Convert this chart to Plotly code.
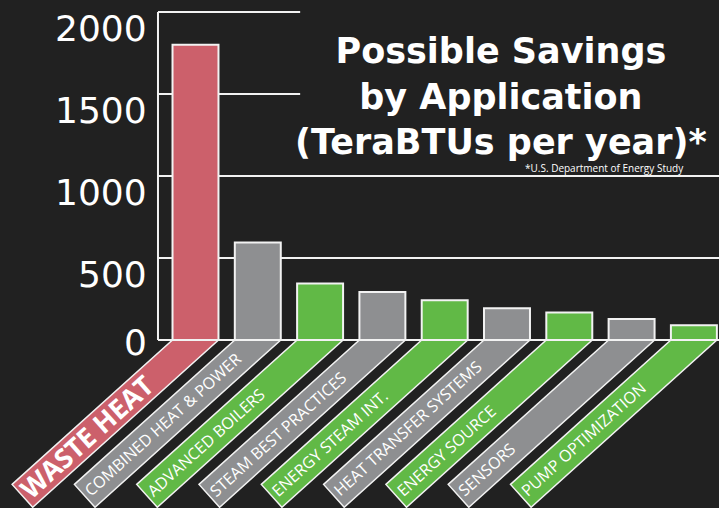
import math
import plotly.graph_objects as go

# ---------------- data ----------------
categories = [
    "WASTE HEAT",
    "COMBINED HEAT & POWER",
    "ADVANCED BOILERS",
    "STEAM BEST PRACTICES",
    "ENERGY STEAM INT.",
    "HEAT TRANSFER SYSTEMS",
    "ENERGY SOURCE",
    "SENSORS",
    "PUMP OPTIMIZATION",
]
savings = [1800, 595, 345, 292, 242, 193, 168, 128, 90]
groups = ["waste", "other", "green", "other", "green", "other", "green", "other", "green"]
tick_values = [0, 500, 1000, 1500, 2000]
tick_labels = ["0", "500", "1000", "1500", "2000"]
title_lines = ["Possible Savings", "by Application", "(TeraBTUs per year)*"]
footnote = "*U.S. Department of Energy Study"

# ---------------- style ----------------
W, H = 719, 508
BG = "#212121"
COLORS = {"waste": "#cc606b", "other": "#8e8f91", "green": "#61b946"}
LINE = "#f2f2f2"
XR = [-3.138, 8.403]          # category axis range (whole figure is the plot area)
YR = [-1024.4, 2073.2]        # value axis range
BW = 0.738                    # bar width (category units)
AXIS_X = -0.602               # position of the vertical axis line
SHORT_GRID_END = 1.68         # upper grid lines stop before the title
THETA = math.radians(42)

sx = W / (XR[1] - XR[0])
sy = H / (YR[1] - YR[0])


def to_px(x, y):
    return (x - XR[0]) * sx, (YR[1] - y) * sy


def to_data(px, py):
    return XR[0] + px / sx, YR[1] - py / sy


fig = go.Figure()

fig.add_trace(go.Bar(
    x=list(range(len(categories))),
    y=savings,
    width=BW,
    marker=dict(color=[COLORS[g] for g in groups], line=dict(color=LINE, width=2)),
    hovertext=categories,
    hoverinfo="text+y",
))

shapes = []
# grid lines
for v in tick_values:
    x1 = SHORT_GRID_END if v >= 1500 else XR[1]
    shapes.append(dict(type="line", xref="x", yref="y", x0=AXIS_X, x1=x1, y0=v, y1=v,
                       line=dict(color=LINE, width=2), layer="below"))
# vertical axis line
shapes.append(dict(type="line", xref="x", yref="y", x0=AXIS_X, x1=AXIS_X,
                   y0=0, y1=max(tick_values), line=dict(color=LINE, width=2), layer="below"))

annotations = []
# tick labels
for v, lab in zip(tick_values, tick_labels):
    annotations.append(dict(
        x=AXIS_X, y=v, xref="x", yref="y", text=lab, showarrow=False,
        xanchor="right", yanchor="middle", xshift=-9, yshift=(-16 if v > 0 else -2),
        font=dict(family="DejaVu Sans", size=36, color="white"),
    ))

# slanted label strips
u = (-math.cos(THETA), math.sin(THETA))   # down-left along strip
n = (math.sin(THETA), math.cos(THETA))    # across strip (down-right)
r = (math.cos(THETA), -math.sin(THETA))   # reading direction
STRIP_LEN = 250
for i, (cat, g) in enumerate(zip(categories, groups)):
    Lp, py0 = to_px(i - BW / 2, 0)
    Rp, _ = to_px(i + BW / 2, 0)
    w = (Rp - Lp) * math.sin(THETA)
    A = (Lp, py0)
    B = (Rp, py0)
    C = (B[0] + STRIP_LEN * u[0], B[1] + STRIP_LEN * u[1])
    D = (C[0] - w * n[0], C[1] - w * n[1])
    pts = [to_data(*p) for p in (A, B, C, D)]
    path = "M " + " L ".join(f"{x:.4f},{y:.2f}" for x, y in pts) + " Z"
    shapes.append(dict(type="path", xref="x", yref="y", path=path,
                       fillcolor=COLORS[g], line=dict(color=LINE, width=1.5), layer="below"))

    bold = (g == "waste")
    fs = 27 if bold else 16
    cap = 0.714 * fs
    a = 3.0 if bold else 4.0
    b = w / 2 + cap / 2
    G = (D[0] + a * r[0] + b * n[0], D[1] + a * r[1] + b * n[1])
    desc = 0.293 * fs + 2
    boxH = 1.362 * fs + 4
    BL = (G[0] - 2 * r[0] + desc * n[0], G[1] - 2 * r[1] + desc * n[1])
    anc = (BL[0] - boxH * math.sin(THETA), BL[1])
    annotations.append(dict(
        x=anc[0] / W, y=1 - anc[1] / H, xref="paper", yref="paper",
        text=(f"<b>{cat}</b>" if bold else cat),
        showarrow=False, xanchor="left", yanchor="bottom", textangle=-42,
        font=dict(family="Open Sans", size=fs, color="white"),
    ))

# title
annotations.append(dict(
    x=501 / W, y=1 - 29 / H, xref="paper", yref="paper",
    text="<br>".join(f"<b>{t}</b>" for t in title_lines), showarrow=False,
    xanchor="center", yanchor="top", align="center",
    font=dict(family="DejaVu Sans", size=35, color="white"),
))
annotations.append(dict(
    x=686 / W, y=1 - 168 / H, xref="paper", yref="paper", text=footnote,
    showarrow=False, xanchor="right", yanchor="middle",
    font=dict(family="Open Sans", size=10, color="white"),
))

fig.update_layout(
    width=W, height=H,
    margin=dict(l=0, r=0, t=0, b=0),
    paper_bgcolor=BG, plot_bgcolor=BG,
    xaxis=dict(range=XR, visible=False, fixedrange=True),
    yaxis=dict(range=YR, visible=False, fixedrange=True),
    showlegend=False,
    shapes=shapes,
    annotations=annotations,
)

fig.write_html(
    "out.html",
    config={"displayModeBar": False},
    post_script="document.body.style.margin='0';document.body.style.overflow='hidden';",
)
